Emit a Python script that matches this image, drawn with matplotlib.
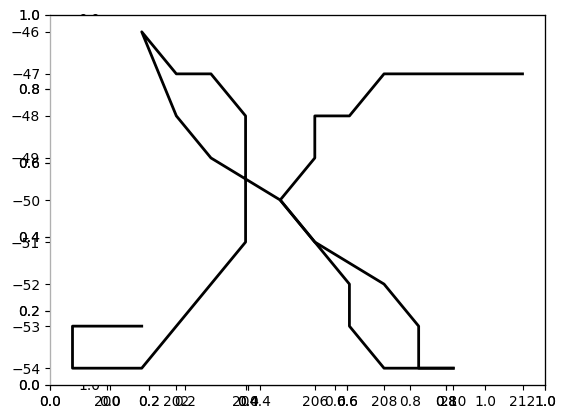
import matplotlib
matplotlib.use("Agg")
import matplotlib.pyplot as plt

# two tracks (longitude, latitude)
lon_a = [201, 199, 199, 201, 204, 204, 203, 202, 201, 202, 203, 205, 206, 207, 207, 208, 209, 210]
lat_a = [-53, -53, -54, -54, -51, -48, -47, -47, -46, -48, -49, -50, -51, -52, -53, -54, -54, -54]
lon_b = [212, 208, 207, 206, 206, 205, 206, 208, 209, 209, 210]
lat_b = [-47, -47, -48, -48, -49, -50, -51, -52, -53, -54, -54]

fig = plt.figure(figsize=(5.65, 4.18), dpi=100)
box = [50 / 565, 33 / 418, 495 / 565, 370 / 418]

# leftover axes underneath (inverted y)
ax_under = fig.add_axes([110 / 565, box[1], 375 / 565, 366 / 418])
ax_under.invert_yaxis()

# two empty 0-1 axes at the same place
ax_base1 = fig.add_axes(box)
ax_base2 = fig.add_axes(box)
ax_base2.patch.set_alpha(0)

# data axes on top
ax = fig.add_axes(box)
ax.patch.set_alpha(0)
ax.plot(lon_a, lat_a, color="black", lw=2)
ax.plot(lon_b, lat_b, color="black", lw=2)

for a in (ax_base1, ax_base2, ax):
    a.spines["left"].set_color("#b0b0b0")

fig.savefig("out.png", dpi=100)
